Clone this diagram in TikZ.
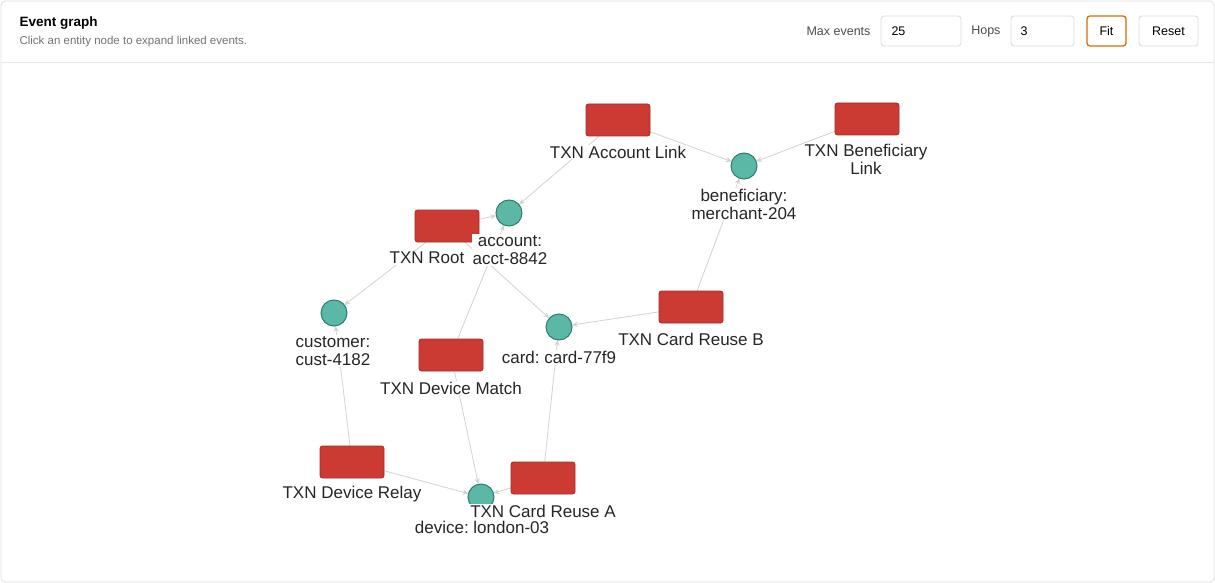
\documentclass[tikz,border=0pt]{standalone}
\usepackage{fontspec}
\setmainfont{Liberation Sans}
\frenchspacing
\usetikzlibrary{arrows.meta}
\definecolor{txn}{HTML}{CC3A34}
\definecolor{txnb}{HTML}{A52A26}
\definecolor{ent}{HTML}{5BB8A6}
\definecolor{entb}{HTML}{2E7D6E}
\definecolor{edge}{HTML}{D2D2D2}
\begin{document}
\begin{tikzpicture}[x=1pt,y=-1pt,
  txn/.style={draw=txnb,fill=txn,rounded corners=2.5,minimum width=64,minimum height=32,inner sep=0,line width=0.8},
  ent/.style={circle,draw=entb,fill=ent,minimum size=26,inner sep=0,line width=1},
  lab/.style={fill=white,inner sep=1,align=center,font=\fontsize{17}{18}\selectfont,text=black!85},
  e/.style={draw=edge,line width=0.8,-{Stealth[length=6,width=5]}},
  box/.style={draw=black!15,rounded corners=3,line width=0.8},
  ui/.style={font=\fontsize{12.5}{14}\selectfont}]
\useasboundingbox (0,0) rectangle (1215,583);
\draw[black!12,rounded corners=4,line width=0.8] (1,1) rectangle (1214,582);
\draw[black!10] (1,62) -- (1214,62);
\node[anchor=west,font=\fontsize{13.5}{15}\selectfont\bfseries] (title) at (16,23) {Event graph};
\node[anchor=west,font=\fontsize{11.5}{13}\selectfont,text=black!55] (sub) at (16,42) {Click an entity node to expand linked events.};
\node[anchor=east,ui,text=black!70] (mx) at (874,31) {Max events};
\draw[box] (881,16) rectangle (961,46);
\node[anchor=west,ui] (mxv) at (888,31) {25};
\node[anchor=east,ui,text=black!70] (hp) at (1004,31) {Hops};
\draw[box] (1011,16) rectangle (1074,46);
\node[anchor=west,ui] (hpv) at (1017,31) {3};
\draw[box,draw=orange!85!black,line width=1.3] (1087,16) rectangle (1126,46);
\node[ui] (fit) at (1106.5,31) {Fit};
\draw[box] (1139,16) rectangle (1198,46);
\node[ui] (reset) at (1168.5,31) {Reset};
% node positions
\coordinate (AL) at (618,120);
\coordinate (BL) at (867,119);
\coordinate (RT) at (447,226);
\coordinate (DM) at (451,355);
\coordinate (CRB) at (691,307);
\coordinate (DR) at (352,462);
\coordinate (CRA) at (543,478);
\coordinate (ben) at (744,166);
\coordinate (acct) at (509,213);
\coordinate (cust) at (334,313);
\coordinate (card) at (559,327);
\coordinate (dev) at (481,497);
% edges (shortened to node borders)
\path[e,shorten <=16,shorten >=13] (AL) -- (ben);
\path[e,shorten <=18,shorten >=13] (AL) -- (acct);
\path[e,shorten <=30,shorten >=13] (BL) -- (ben);
\path[e,shorten <=32,shorten >=13] (RT) -- (acct);
\path[e,shorten <=18,shorten >=13] (RT) -- (cust);
\path[e,shorten <=22,shorten >=13] (RT) -- (card);
\path[e,shorten <=17,shorten >=13] (DM) -- (acct);
\path[e,shorten <=17,shorten >=13] (DM) -- (dev);
\path[e,shorten <=32,shorten >=13] (CRB) -- (card);
\path[e,shorten <=17,shorten >=13] (CRB) -- (ben);
\path[e,shorten <=16,shorten >=13] (DR) -- (cust);
\path[e,shorten <=32,shorten >=13] (DR) -- (dev);
\path[e,shorten <=32,shorten >=13] (CRA) -- (dev);
\path[e,shorten <=16,shorten >=13] (CRA) -- (card);
% nodes
\node[txn] (nAL) at (AL) {};
\node[txn] (nBL) at (BL) {};
\node[txn] (nRT) at (RT) {};
\node[txn] (nDM) at (DM) {};
\node[txn] (nCRB) at (CRB) {};
\node[txn] (nDR) at (DR) {};
\node[txn] (nCRA) at (CRA) {};
\node[ent] (nben) at (ben) {};
\node[ent] (nacct) at (acct) {};
\node[ent] (ncust) at (cust) {};
\node[ent] (ncard) at (card) {};
\node[ent] (ndev) at (dev) {};
% labels
\node[lab] (lAL) at (618,152) {TXN Account Link};
\node[lab] (lBL) at (866,159) {TXN Beneficiary\\Link};
\node[lab] (lRT) at (427,258) {TXN Root};
\node[lab] (lDM) at (451,388) {TXN Device Match};
\node[lab] (lCRB) at (691,339) {TXN Card Reuse B};
\node[lab] (lDR) at (352,494) {TXN Device Relay};
\node[lab] (lCRA) at (543,511) {TXN Card Reuse A};
\node[lab] (lben) at (744,204) {beneficiary:\\merchant-204};
\node[lab] (lacct) at (510,250) {account:\\acct-8842};
\node[lab] (lcust) at (333,351) {customer:\\cust-4182};
\node[lab] (lcard) at (559,357) {card: card-77f9};
\node[lab] (ldev) at (482,527) {device: london-03};
\end{tikzpicture}
\end{document}
